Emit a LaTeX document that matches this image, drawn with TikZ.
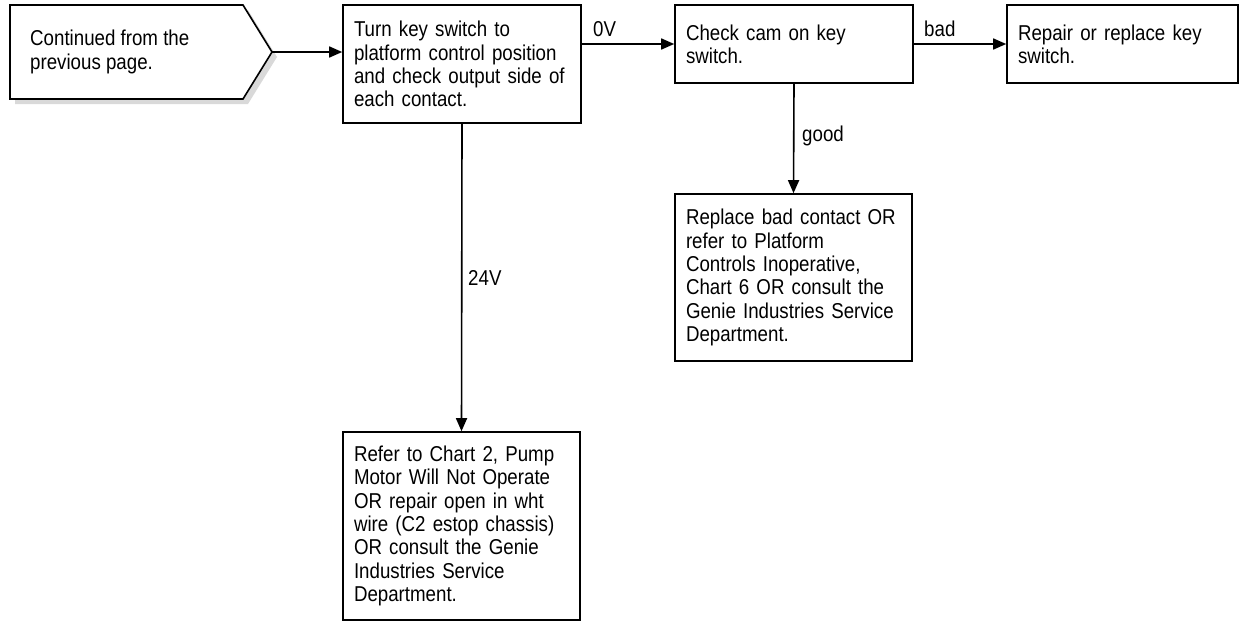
\documentclass[tikz,border=0pt]{standalone}
\usepackage{fontspec}
\setmainfont{Liberation Sans}[FakeStretch=0.87]
\usetikzlibrary{arrows.meta}
\begin{document}
\begin{tikzpicture}[x=1pt,y=-1pt]
\tikzset{
 txt/.style={font=\fontsize{21.5}{23.3}\selectfont},
 box/.style={draw, line width=1.6pt, txt, align=left, inner xsep=11pt, inner ysep=0pt,
   execute at begin node={\hyphenpenalty=10000\exhyphenpenalty=10000\relax}},
 conn/.style={line width=1.6pt, -{Triangle[length=13pt,width=11pt]}},
 lab/.style={txt, inner sep=0pt, anchor=base west}
}
\useasboundingbox (0,0) rectangle (1241,621);
% pentagon with shadow
\fill[gray!30] (15,10) -- (248,10) -- (277,57) -- (248,104) -- (15,104) -- cycle;
\draw[line width=1.6pt, fill=white] (10,5) -- (243,5) -- (272,52) -- (243,99) -- (10,99) -- cycle;
\coordinate (tip) at (272,52);
\node[txt, inner sep=0pt, anchor=west, align=left] (pent) at (30,52) {Continued from the\\previous page.};
% boxes
\node[box, minimum width=238pt, minimum height=118pt, text width=216pt] (b1) at (462,64)
 {Turn key switch to\\platform control position\\and check output side of\\each contact.};
\node[box, minimum width=238pt, minimum height=78pt, text width=216pt] (b2) at (794,44)
 {Check cam on key\\switch.};
\node[box, minimum width=231pt, minimum height=78pt, text width=209pt] (b3) at (1122.5,44)
 {Repair or replace key\\switch.};
\node[box, minimum width=237pt, minimum height=167pt, text width=215pt] (b4) at (793.5,277.5)
 {Replace bad contact OR\\refer to Platform\\Controls Inoperative,\\Chart 6 OR consult the\\Genie Industries Service\\Department.};
\node[box, minimum width=237pt, minimum height=188pt, text width=215pt] (b5) at (461.5,526)
 {Refer to Chart 2, Pump\\Motor Will Not Operate\\OR repair open in wht\\wire (C2 estop chassis)\\OR consult the Genie\\Industries Service\\Department.};
% connectors
\draw[conn] (tip) -- (tip -| b1.west);
\draw[conn] (b2.west -| b1.east) -- (b2.west);
\draw[conn] (b2.east) -- (b3.west);
\draw[conn] (b2.south) -- (b4.north);
\draw[conn] (b1.south) -- (b5.north);
% labels
\node[lab] (l0v) at (593,36.5) {0V};
\node[lab] (lbad) at (924,36) {bad};
\node[lab] (lgood) at (802,141.5) {good};
\node[lab] (l24) at (468,285) {24V};
\end{tikzpicture}
\end{document}
